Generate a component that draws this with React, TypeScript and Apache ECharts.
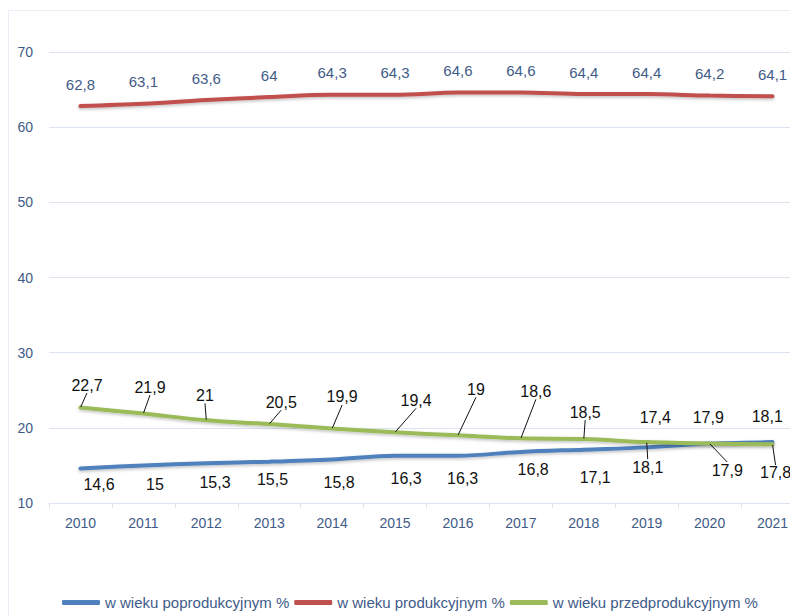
import React, { useEffect, useRef } from "react";
import * as echarts from "echarts";

const years = ["2010", "2011", "2012", "2013", "2014", "2015", "2016", "2017", "2018", "2019", "2020", "2021"];
const poprodukcyjny = [14.6, 15, 15.3, 15.5, 15.8, 16.3, 16.3, 16.8, 17.1, 17.4, 17.9, 18.1];
const produkcyjny = [62.8, 63.1, 63.6, 64, 64.3, 64.3, 64.6, 64.6, 64.4, 64.4, 64.2, 64.1];
const przedprodukcyjny = [22.7, 21.9, 21, 20.5, 19.9, 19.4, 19, 18.6, 18.5, 18.1, 17.9, 17.8];
const seriesNames = ["w wieku poprodukcyjnym %", "w wieku produkcyjnym %", "w wieku przedprodukcyjnym %"];
const yTicks = { min: 10, max: 70, interval: 10 };

// label placement offsets (style only), in px relative to each point
const blueLabelOffsets = [
  [18.5, 15.6], [11.6, 18.6], [8.7, 19.8], [3.3, 18.3], [7, 22.6], [11, 22.4],
  [4.7, 22.4], [12.3, 18.1], [11.4, 27.4], [8.5, -29.4], [-1.4, -26.6], [-5.3, -26],
];
const greenLabelOffsets = [
  [6.5, -22.5], [6.6, -26.5], [-1.3, -25], [12, -22], [10, -31.6], [21, -32],
  [18, -46], [15, -47], [1.4, -27], [1, 25], [17.6, 26.4], [3, 28.6],
];

const AXIS_TEXT = "#3F5B88";
const GRID_LINE = "#DCE4F0";
const FONT = "'Liberation Sans', Arial, sans-serif";

const fmt = (p: any) => String(p.value).replace(".", ",");

export default function App() {
  const ref = useRef<HTMLDivElement>(null);
  useEffect(() => {
    if (!ref.current) return;
    document.body.style.overflow = "hidden";
    const chart = echarts.init(ref.current, undefined, { renderer: "svg" });
    const shadow = { shadowBlur: 3, shadowColor: "rgba(0,0,0,0.25)", shadowOffsetY: 1.5 };
    const option: any = {
      animation: false,
      backgroundColor: "#ffffff",
      textStyle: { fontFamily: FONT },
      graphic: [
        {
          type: "rect",
          shape: { x: 8.5, y: 10.5, width: 820, height: 640 },
          style: { fill: "none", stroke: "#E9EEF6", lineWidth: 1 },
          silent: true,
        },
      ],
      grid: { left: 49, top: 52, width: 755, height: 451 },
      legend: {
        left: 57,
        top: 590,
        itemWidth: 38,
        itemHeight: 5,
        itemGap: 5,
        icon: "roundRect",
        textStyle: { fontSize: 15, color: AXIS_TEXT, fontFamily: FONT },
        data: seriesNames,
      },
      xAxis: {
        type: "category",
        data: years,
        boundaryGap: true,
        axisLine: { lineStyle: { color: GRID_LINE, width: 1 } },
        axisTick: { show: true, length: 5, lineStyle: { color: GRID_LINE } },
        axisLabel: { color: AXIS_TEXT, fontSize: 14, margin: 13, fontFamily: FONT },
        splitLine: { show: false },
      },
      yAxis: {
        type: "value",
        min: yTicks.min,
        max: yTicks.max,
        interval: yTicks.interval,
        axisLine: { show: false },
        axisTick: { show: false },
        axisLabel: { color: AXIS_TEXT, fontSize: 14, margin: 16, fontFamily: FONT },
        splitLine: { lineStyle: { color: GRID_LINE, width: 1 } },
      },
      series: [
        {
          name: seriesNames[0],
          type: "line",
          data: poprodukcyjny,
          smooth: 0.35,
          symbol: "circle",
          symbolSize: 1,
          color: "#4F81BD",
          itemStyle: { color: "#4F81BD" },
          lineStyle: { width: 4, cap: "round", color: "#4F81BD", ...shadow },
          label: {
            show: true,
            position: "inside",
            formatter: fmt,
            color: "#111111",
            fontSize: 16,
            fontFamily: FONT,
          },
          labelLayout: (p: any) => {
            const o = blueLabelOffsets[p.dataIndex];
            return { dx: o[0], dy: o[1] };
          },
          emphasis: { disabled: true },
          z: 2,
        },
        {
          name: seriesNames[1],
          type: "line",
          data: produkcyjny,
          smooth: 0.35,
          symbol: "circle",
          symbolSize: 1,
          color: "#C0504D",
          itemStyle: { color: "#C0504D" },
          lineStyle: { width: 4, cap: "round", color: "#C0504D", ...shadow },
          label: {
            show: true,
            position: "top",
            distance: 14,
            formatter: fmt,
            color: AXIS_TEXT,
            fontSize: 15,
            fontFamily: FONT,
          },
          emphasis: { disabled: true },
          z: 2,
        },
        {
          name: seriesNames[2],
          type: "line",
          data: przedprodukcyjny,
          smooth: 0.35,
          symbol: "circle",
          symbolSize: 1,
          color: "#9BBB59",
          itemStyle: { color: "#9BBB59" },
          lineStyle: { width: 4, cap: "round", color: "#9BBB59", ...shadow },
          label: {
            show: true,
            position: "inside",
            formatter: fmt,
            color: "#111111",
            fontSize: 16,
            fontFamily: FONT,
          },
          labelLine: { show: true, lineStyle: { color: "#111111", width: 1 } },
          labelLayout: (p: any) => {
            const o = greenLabelOffsets[p.dataIndex];
            return { dx: o[0], dy: o[1] };
          },
          emphasis: { disabled: true },
          z: 3,
        },
      ],
    };
    chart.setOption(option);
    return () => chart.dispose();
  }, []);
  return (
    <div
      ref={ref}
      style={{ position: "fixed", left: 0, top: 0, width: 806, height: 616, background: "#fff" }}
    />
  );
}
